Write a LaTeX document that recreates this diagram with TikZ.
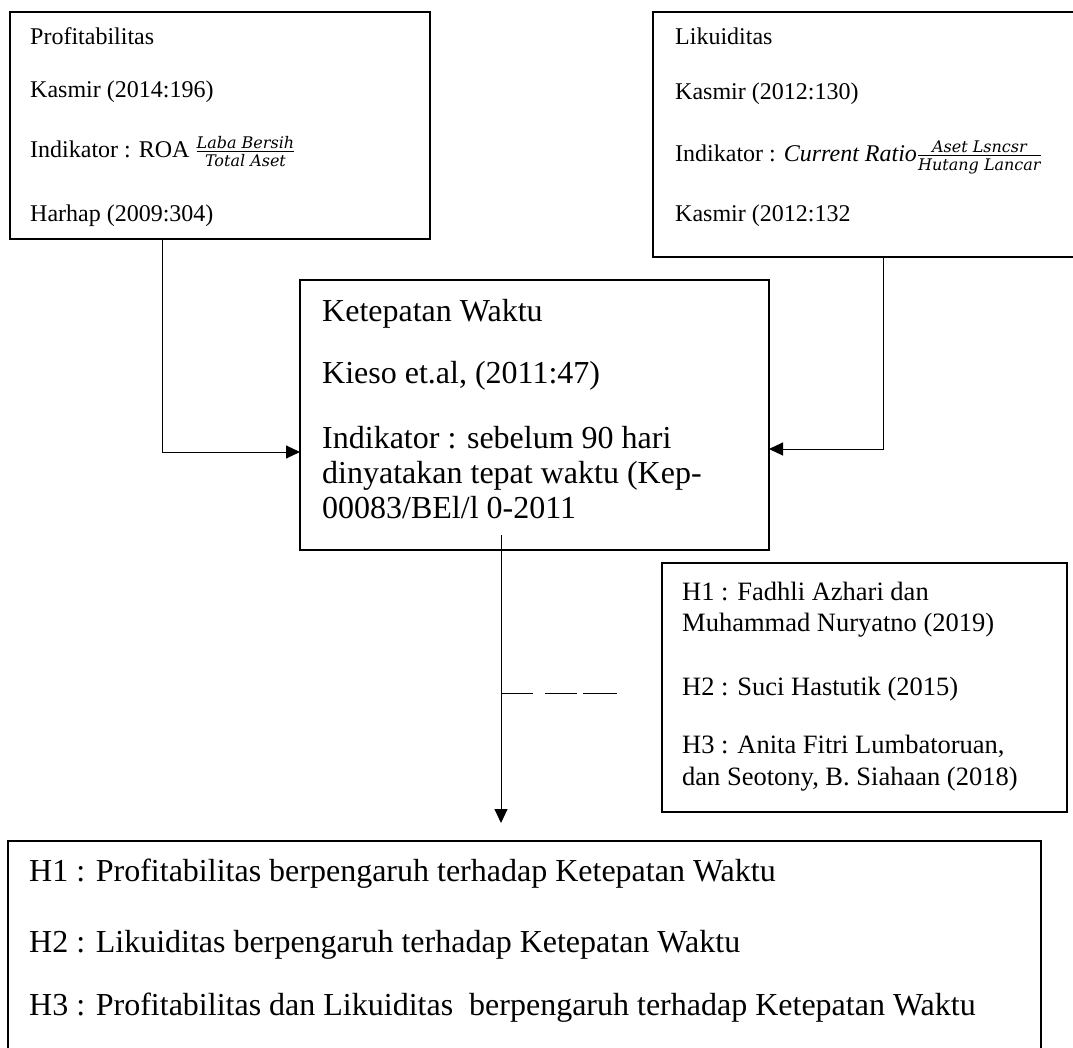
\documentclass[tikz,border=0pt]{standalone}
\usepackage{fontspec}
\setmainfont{Liberation Serif}
\newfontfamily\fracfam{DejaVu Serif}
\usepackage{amsmath}
\usetikzlibrary{arrows.meta}
\newcommand\fracfont{\fontsize{16}{16}\selectfont\fracfam\itshape}
\begin{document}
\begin{tikzpicture}[x=1pt,y=-1pt,
  frame/.style={draw,line width=2pt},
  conn/.style={line width=1pt},
  arr/.style={conn,-{Triangle[length=14pt,width=13pt]}},
  small/.style={font=\fontsize{24}{30}\selectfont,anchor=base west,inner sep=0},
  refs/.style={font=\fontsize{26.5}{31.5}\selectfont,anchor=base west,inner sep=0},
  big/.style={font=\fontsize{32}{35}\selectfont,anchor=base west,inner sep=0},
  mid/.style={font=\fontsize{32}{38}\selectfont,anchor=base west,inner sep=0}]
\useasboundingbox (0,0) rectangle (1073,1048);
% boxes
\draw[frame] (10,12) rectangle (430,239);
\draw[frame] (653,12) rectangle (1080,257);
\draw[frame] (300,280) rectangle (769,550);
\draw[frame] (662,563) rectangle (1067,812);
\draw[frame] (8,841) rectangle (1041,1060);
% box1 text
\node[small] (p1) at (30,45) {Profitabilitas};
\node[small] (p2) at (30,98) {Kasmir (2014:196)};
\node[small] (p3) at (30,158) {Indikator : ROA $\frac{\text{\fracfont Laba Bersih}}{\text{\fracfont Total Aset}}$};
\node[small] (p4) at (30,222) {Harhap (2009:304)};
% box2 text
\node[small] (l1) at (675,45) {Likuiditas};
\node[small] (l2) at (675,100) {Kasmir (2012:130)};
\node[small] (l3) at (675,162) {Indikator : \textit{Current Ratio}$\frac{\text{\fracfont Aset Lsncsr}}{\text{\fracfont Hutang Lancar}}$};
\node[small] (l4) at (675,222) {Kasmir (2012:132};
% centre text
\node[big] (k1) at (322,322) {Ketepatan Waktu};
\node[big] (k2) at (322,383) {Kieso et.al, (2011:47)};
\node[big] (k3) at (322,448) {Indikator : sebelum 90 hari};
\node[big] (k4) at (322,483) {dinyatakan tepat waktu (Kep-};
\node[big] (k5) at (322,518) {00083/BEl/l 0-2011};
% ref box text
\node[refs] (r1) at (682,600) {H1 : Fadhli Azhari dan};
\node[refs] (r2) at (682,631) {Muhammad Nuryatno (2019)};
\node[refs] (r3) at (682,695) {H2 : Suci Hastutik (2015)};
\node[refs] (r4) at (682,753) {H3 : Anita Fitri Lumbatoruan,};
\node[refs] (r5) at (682,785) {dan Seotony, B. Siahaan (2018)};
% bottom text
\node[mid] (h1) at (29,881) {H1 : Profitabilitas berpengaruh terhadap Ketepatan Waktu};
\node[mid] (h2) at (29,952) {H2 : Likuiditas berpengaruh terhadap Ketepatan Waktu};
\node[mid] (h3) at (29,1015) {H3 : Profitabilitas dan Likuiditas~ berpengaruh terhadap Ketepatan Waktu};
% connectors
\coordinate (a1) at (162,239);
\coordinate (a2) at (162,452);
\coordinate (a3) at (300,452);
\draw[arr] (a1) -- (a2) -- (a3);
\coordinate (b1) at (883,257);
\coordinate (b2) at (883,449);
\coordinate (b3) at (769,449);
\draw[arr] (b1) -- (b2) -- (b3);
\coordinate (c1) at (501,535);
\coordinate (c2) at (501,823);
\draw[arr] (c1) -- (c2);
\coordinate (d1) at (501,693);
\coordinate (d2) at (533,693);
\coordinate (d3) at (545,693);
\coordinate (d4) at (577,693);
\coordinate (d5) at (583,693);
\coordinate (d6) at (617,693);
\draw[conn] (d1) -- (d2) (d3) -- (d4) (d5) -- (d6);
\end{tikzpicture}
\end{document}
